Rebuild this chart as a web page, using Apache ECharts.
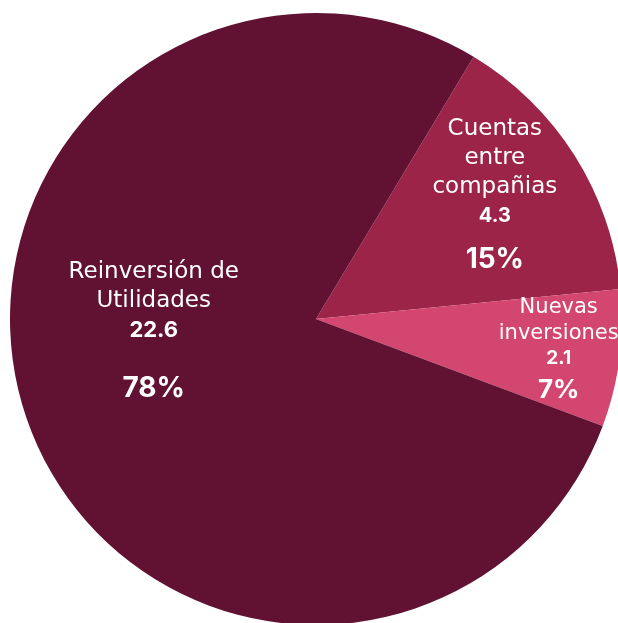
<!DOCTYPE html>
<html><head><meta charset="utf-8">
<script src="https://cdn.jsdelivr.net/npm/echarts@6/dist/echarts.min.js"></script>
<style>html,body{margin:0;padding:0;background:#fff}#c{width:618px;height:623px}</style>
</head><body><div id="c"></div>
<script>
// Data
const categories = ['Cuentas entre compañias', 'Nuevas inversiones', 'Reinversión de Utilidades'];
const labelLines = [['Cuentas', 'entre', 'compañias'], ['Nuevas', 'inversiones'], ['Reinversión de', 'Utilidades']];
const values = [4.3, 2.1, 22.6];
const percents = ['15%', '7%', '78%'];

// Styling
const colors = ['#9D2449', '#D3466F', '#611232'];
const styleKeys = ['b', 'c', 'a'];
const labelShift = [[47, -34], [88, 13], [-15, -26]];

const font = 'Inter, "Open Sans", sans-serif';
const nameFont = '"DejaVu Sans", sans-serif';
const rich = {
  an: {fontSize: 23, lineHeight: 29, color: '#fff', fontFamily: nameFont},
  av: {fontSize: 22, lineHeight: 30, color: '#fff', fontWeight: 'bold', fontFamily: font},
  ap: {fontSize: 28, lineHeight: 86, color: '#fff', fontWeight: 'bold', fontFamily: font},
  bn: {fontSize: 23, lineHeight: 29, color: '#fff', fontFamily: nameFont},
  bv: {fontSize: 20, lineHeight: 29, color: '#fff', fontWeight: 'bold', fontFamily: font},
  bp: {fontSize: 28, lineHeight: 58, color: '#fff', fontWeight: 'bold', fontFamily: font},
  cn: {fontSize: 21, lineHeight: 26, color: '#fff', fontFamily: nameFont},
  cv: {fontSize: 19, lineHeight: 24, color: '#fff', fontWeight: 'bold', fontFamily: font},
  cp: {fontSize: 26, lineHeight: 40, color: '#fff', fontWeight: 'bold', fontFamily: font}
};

const data = categories.map((name, i) => {
  const k = styleKeys[i];
  const txt = labelLines[i].map(l => '{' + k + 'n|' + l + '}').join('\n') +
    '\n{' + k + 'v|' + values[i] + '}\n{' + k + 'p|' + percents[i] + '}';
  return {name: name, value: values[i], itemStyle: {color: colors[i]}, label: {formatter: txt}};
});

const chart = echarts.init(document.getElementById('c'));
chart.setOption({
  backgroundColor: '#ffffff',
  animation: false,
  series: [{
    type: 'pie',
    center: [316, 319],
    radius: [0, 306],
    startAngle: 59,
    clockwise: true,
    avoidLabelOverlap: false,
    label: {show: true, position: 'inside', rich: rich, lineHeight: 28},
    labelLine: {show: false},
    labelLayout: function (p) {
      return {dx: labelShift[p.dataIndex][0], dy: labelShift[p.dataIndex][1], hideOverlap: false};
    },
    itemStyle: {borderWidth: 0},
    emphasis: {disabled: true},
    data: data
  }]
});
</script></body></html>
